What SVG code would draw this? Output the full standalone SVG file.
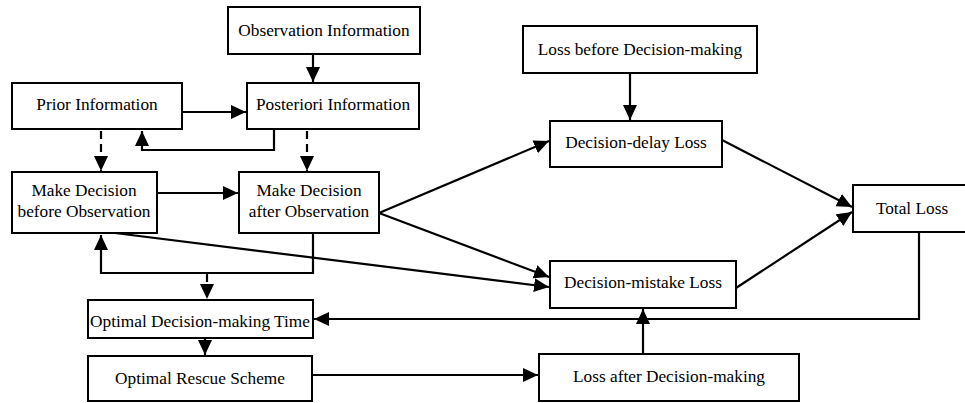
<svg xmlns="http://www.w3.org/2000/svg" width="965" height="403" viewBox="0 0 965 403">
<style>
.box{fill:#fff;stroke:#000;stroke-width:2}
.t{font-family:"Liberation Serif","Times New Roman",serif;font-size:17.3px;fill:#000;text-anchor:middle}
.c{fill:none;stroke:#000;stroke-width:2.2}
.d{stroke-dasharray:8 5}
</style>
<defs>
<marker id="ah" markerUnits="userSpaceOnUse" markerWidth="16" markerHeight="15" refX="15" refY="7" orient="auto">
<path d="M0,0 L15,7 L0,14 z" fill="#000"/>
</marker>
</defs>
<rect width="965" height="403" fill="#fff"/>
<g id="connectors">
<path class="c" d="M313,54 V82" marker-end="url(#ah)"/>
<path class="c" d="M182,112 H246" marker-end="url(#ah)"/>
<path class="c" d="M274,129 V150 H142 V131" marker-end="url(#ah)"/>
<path class="c d" d="M101,131 V171" marker-end="url(#ah)"/>
<path class="c d" d="M307,131 V171" marker-end="url(#ah)"/>
<path class="c" d="M157,193 H238" marker-end="url(#ah)"/>
<path class="c" d="M379,213 L549,141" marker-end="url(#ah)"/>
<path class="c" d="M379,213 L549,277" marker-end="url(#ah)"/>
<path class="c" d="M115,233 L549,287" marker-end="url(#ah)"/>
<path class="c" d="M313,233 V273 H101 V235" marker-end="url(#ah)"/>
<path class="c d" d="M207,274 V299" marker-end="url(#ah)"/>
<path class="c" d="M205,338 V355" marker-end="url(#ah)"/>
<path class="c" d="M919,232 V319 H314" marker-end="url(#ah)"/>
<path class="c" d="M312,375 H538" marker-end="url(#ah)"/>
<path class="c" d="M643,354 V309" marker-end="url(#ah)"/>
<path class="c" d="M630,73 V120" marker-end="url(#ah)"/>
<path class="c" d="M722,140 L852,207" marker-end="url(#ah)"/>
<path class="c" d="M736,288 L852,212" marker-end="url(#ah)"/>
</g>
<g id="observation">
<rect class="box" x="228" y="7" width="192" height="47"/>
<text class="t" x="324" y="36">Observation Information</text>
</g>
<g id="prior">
<rect class="box" x="12" y="83" width="170" height="46"/>
<text class="t" x="97" y="110">Prior Information</text>
</g>
<g id="posteriori">
<rect class="box" x="247" y="83" width="172" height="46"/>
<text class="t" x="333" y="110">Posteriori Information</text>
</g>
<g id="before">
<rect class="box" x="12" y="172" width="145" height="61"/>
<text class="t" x="84" y="196">Make Decision</text>
<text class="t" x="84" y="217">before Observation</text>
</g>
<g id="after">
<rect class="box" x="239" y="172" width="140" height="61"/>
<text class="t" x="309" y="196">Make Decision</text>
<text class="t" x="309" y="217">after Observation</text>
</g>
<g id="opttime">
<rect class="box" x="88" y="300" width="225" height="38"/>
<text class="t" x="200" y="327">Optimal Decision-making Time</text>
</g>
<g id="rescue">
<rect class="box" x="88" y="356" width="224" height="45"/>
<text class="t" x="200" y="384">Optimal Rescue Scheme</text>
</g>
<g id="lossbefore">
<rect class="box" x="523" y="26" width="234" height="47"/>
<text class="t" x="640" y="55">Loss before Decision-making</text>
</g>
<g id="delay">
<rect class="box" x="550" y="121" width="172" height="46"/>
<text class="t" x="636" y="148">Decision-delay Loss</text>
</g>
<g id="total">
<rect class="box" x="853" y="185" width="115" height="47"/>
<text class="t" x="912" y="214">Total Loss</text>
</g>
<g id="mistake">
<rect class="box" x="550" y="261" width="186" height="47"/>
<text class="t" x="643" y="288">Decision-mistake Loss</text>
</g>
<g id="lossafter">
<rect class="box" x="539" y="354" width="260" height="47"/>
<text class="t" x="669" y="382">Loss after Decision-making</text>
</g>
</svg>
